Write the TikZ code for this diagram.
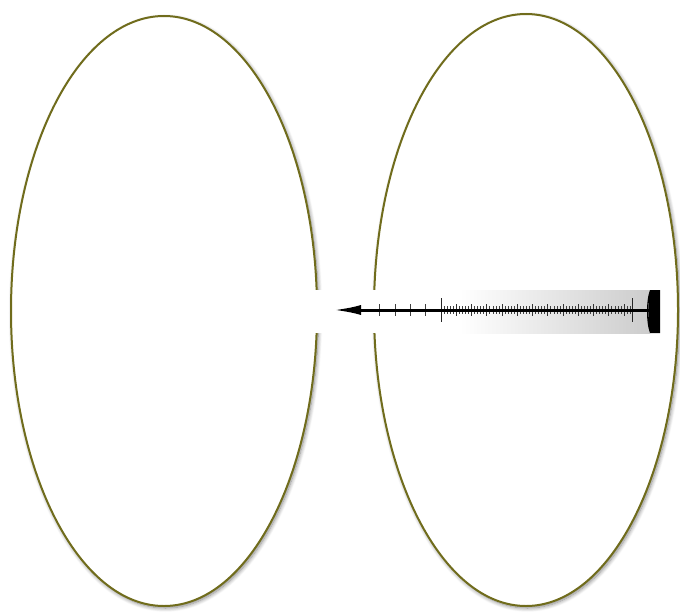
\documentclass[tikz,border=0pt]{standalone}
\usetikzlibrary{shapes.geometric,arrows.meta,shadows.blur}
\definecolor{rim}{RGB}{112,108,28}
\begin{document}
\begin{tikzpicture}[x=1pt,y=-1pt,
  oval/.style={ellipse,draw=rim,line width=2pt,fill=white,inner sep=0pt,
    blur shadow={shadow xshift=1.5pt,shadow yshift=-2pt,shadow blur steps=8,shadow blur radius=4pt,shadow opacity=50}},
  tickmin/.style={line width=0.7pt,black!75},
  tickmed/.style={line width=0.8pt,black!80},
  tickmaj/.style={line width=0.9pt,black!85}]
\useasboundingbox (0,0) rectangle (680,613);
\node[oval,minimum width=306pt,minimum height=590pt] (L) at (164,311) {};
\node[oval,minimum width=304pt,minimum height=592pt] (R) at (526,310) {};
% ruler panel
\fill[white] (310,290) rectangle (660,333);
\shade[left color=white,right color=black!20] (460,290) rectangle (650,333);
\fill[black] (660,290) -- (650,290) .. controls (646,300) and (646,323) .. (650,333) -- (660,333) -- cycle;
\coordinate (rs) at (655,310);
\coordinate (re) at (333,310);
% ticks
\foreach \x in {379,395,410,425} \draw[tickmin] (\x,304) -- (\x,316);
\foreach \i in {0,...,62} \draw[tickmin] ({441+\i*3.05},306) -- ({441+\i*3.05},314);
\foreach \i in {1,...,12} \draw[tickmed] ({441+\i*15.25},304) -- ({441+\i*15.25},316);
\draw[tickmaj] (441,298) -- (441,322);
\draw[tickmaj] (632,298) -- (632,322);
\draw[tickmin] (648,303) -- (648,317);
\draw[line width=3pt,-{Latex[length=28pt,width=10pt]}] (rs) -- (re);
\end{tikzpicture}
\end{document}
